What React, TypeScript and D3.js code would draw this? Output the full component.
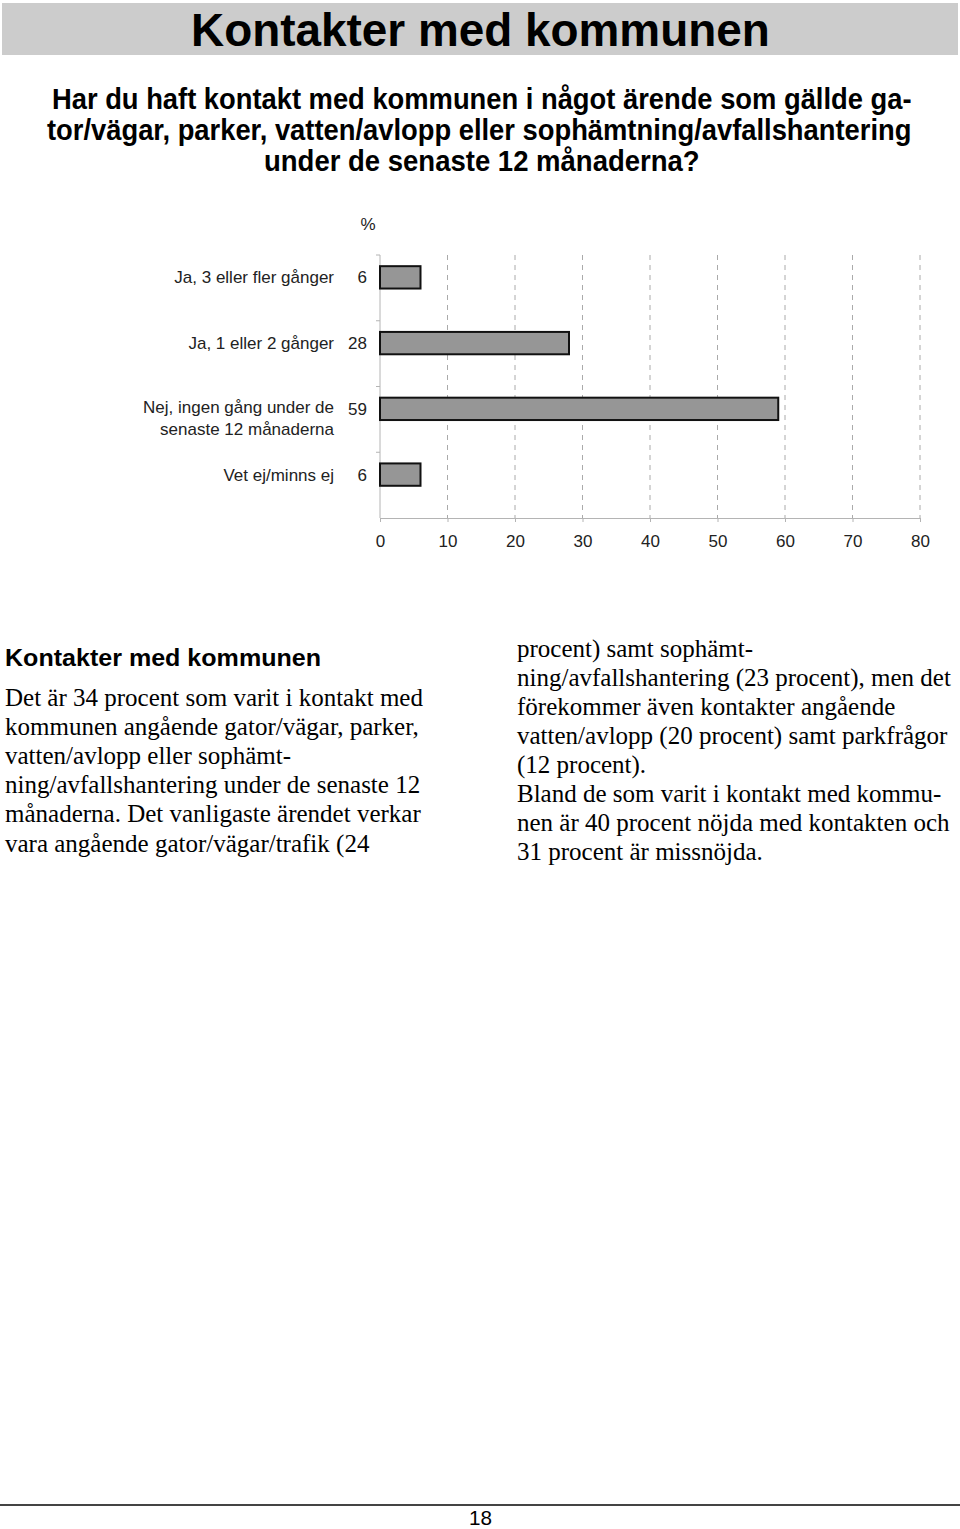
import React, { useEffect, useRef } from 'react';
import * as d3 from 'd3';

// Chart data
const categories = [
  'Ja, 3 eller fler gånger',
  'Ja, 1 eller 2 gånger',
  'Nej, ingen gång under de|senaste 12 månaderna',
  'Vet ej/minns ej'
];
const values = [6, 28, 59, 6];
const xTicks = [0, 10, 20, 30, 40, 50, 60, 70, 80];

const pageTitle = 'Kontakter med kommunen';
const questionLines = [
  'Har du haft kontakt med kommunen i något ärende som gällde ga-',
  'tor/vägar, parker, vatten/avlopp eller sophämtning/avfallshantering',
  'under de senaste 12 månaderna?'
];
// [left, right] edge of each question line in the page
const questionSpan = [[52, 912], [47, 912], [264, 700]];
const sectionHeading = 'Kontakter med kommunen';
const leftColumn = [
  'Det är 34 procent som varit i kontakt med',
  'kommunen angående gator/vägar, parker,',
  'vatten/avlopp eller sophämt-',
  'ning/avfallshantering under de senaste 12',
  'månaderna. Det vanligaste ärendet verkar',
  'vara angående gator/vägar/trafik (24'
];
const rightColumn = [
  'procent) samt sophämt-',
  'ning/avfallshantering (23 procent), men det',
  'förekommer även kontakter angående',
  'vatten/avlopp (20 procent) samt parkfrågor',
  '(12 procent).',
  'Bland de som varit i kontakt med kommu-',
  'nen är 40 procent nöjda med kontakten och',
  '31 procent är missnöjda.'
];
const pageNumber = '18';

const W = 960;
const H = 1529;
const SANS = '"Liberation Sans", Arial, sans-serif';
const SERIF = '"Liberation Serif", "Times New Roman", serif';

type Sel = d3.Selection<SVGSVGElement, unknown, null, undefined>;

// Draws a condensed text that spans [x0, x1] by squeezing it horizontally
function condensed(svg: Sel, str: string, x0: number, x1: number, baseline: number, size: number, bold: boolean) {
  const t = svg.append('text')
    .attr('x', 0).attr('y', 0)
    .attr('font-family', SANS)
    .attr('font-weight', bold ? 'bold' : 'normal')
    .attr('font-size', size)
    .attr('fill', '#000')
    .text(str);
  const len = (t.node() as SVGTextElement).getComputedTextLength() || (x1 - x0);
  t.attr('transform', `translate(${x0},${baseline}) scale(${(x1 - x0) / len},1)`);
}

const App: React.FC = () => {
  const svgRef = useRef<SVGSVGElement>(null);

  useEffect(() => {
    if (!svgRef.current) return;
    const svg = d3.select(svgRef.current) as Sel;
    svg.selectAll('*').remove();

    svg.append('rect').attr('width', W).attr('height', H).attr('fill', '#fff');

    // Title band
    svg.append('rect')
      .attr('x', 2).attr('y', 3).attr('width', 956).attr('height', 52)
      .attr('fill', '#cccccc');
    condensed(svg, pageTitle, 191, 770, 46, 47, true);

    // Question
    questionLines.forEach((line, i) => {
      const [a, b] = questionSpan[i];
      condensed(svg, line, a, b, 109 + i * 31, 30, true);
    });

    // Chart
    const left = 380, right = 920, top = 255, bottom = 518;
    const x = d3.scaleLinear().domain([0, 80]).range([left, right]);
    const y = d3.scaleBand<string>().domain(categories).range([top, bottom]).padding(0);
    const bw = y.bandwidth();
    const barY = (c: string) => (y(c) || 0) + bw * 0.17;
    const barH = bw * 0.34;

    const g = svg.append('g');

    // gridlines
    g.selectAll('.grid')
      .data(xTicks.filter(t => t > 0))
      .enter()
      .append('line')
      .attr('x1', d => x(d)).attr('x2', d => x(d))
      .attr('y1', top).attr('y2', bottom)
      .attr('stroke', '#aaaaaa')
      .attr('stroke-width', 1)
      .attr('stroke-dasharray', '5,5');

    // y axis line + ticks
    g.append('line')
      .attr('x1', left).attr('x2', left).attr('y1', top).attr('y2', bottom)
      .attr('stroke', '#b4b4b4');
    g.selectAll('.ytick')
      .data(categories)
      .enter()
      .append('line')
      .attr('x1', left - 4).attr('x2', left)
      .attr('y1', d => y(d) || 0).attr('y2', d => y(d) || 0)
      .attr('stroke', '#b4b4b4');

    // x axis
    const xAxis = g.append('g')
      .attr('transform', `translate(0,${bottom})`)
      .call(d3.axisBottom(x).tickValues(xTicks).tickSize(4).tickPadding(13));
    xAxis.select('.domain').attr('stroke', '#b4b4b4');
    xAxis.selectAll('.tick line').attr('stroke', '#b4b4b4');
    xAxis.selectAll('.tick text')
      .attr('font-family', SANS)
      .attr('font-size', 17)
      .attr('fill', '#222');

    // bars
    g.selectAll('.bar')
      .data(categories)
      .enter()
      .append('rect')
      .attr('x', x(0))
      .attr('y', d => barY(d))
      .attr('width', (_, i) => x(values[i]) - x(0))
      .attr('height', barH)
      .attr('fill', '#969696')
      .attr('stroke', '#111')
      .attr('stroke-width', 2);

    // value labels
    g.selectAll('.val')
      .data(categories)
      .enter()
      .append('text')
      .attr('x', 367)
      .attr('y', d => barY(d) + barH / 2)
      .attr('dy', '0.35em')
      .attr('text-anchor', 'end')
      .attr('font-family', SANS)
      .attr('font-size', 17)
      .attr('fill', '#222')
      .text((_, i) => values[i]);

    // category labels
    categories.forEach(c => {
      const parts = c.split('|');
      const t = g.append('text')
        .attr('text-anchor', 'end')
        .attr('font-family', SANS)
        .attr('font-size', 17)
        .attr('fill', '#222');
      parts.forEach((p, j) => {
        t.append('tspan')
          .attr('x', 334)
          .attr('y', barY(c) + barH / 2 - (parts.length > 1 ? 2 : 0) + j * 22)
          .attr('dy', '0.35em')
          .text(p);
      });
    });

    // percent label
    g.append('text')
      .attr('x', 368).attr('y', 224)
      .attr('dy', '0.35em')
      .attr('text-anchor', 'middle')
      .attr('font-family', SANS)
      .attr('font-size', 17)
      .attr('fill', '#222')
      .text('%');

    // Section heading
    svg.append('text')
      .attr('x', 5).attr('y', 666)
      .attr('font-family', SANS)
      .attr('font-weight', 'bold')
      .attr('font-size', 23)
      .attr('textLength', 316)
      .attr('lengthAdjust', 'spacingAndGlyphs')
      .attr('fill', '#000')
      .text(sectionHeading);

    leftColumn.forEach((line, i) => {
      svg.append('text')
        .attr('x', 5).attr('y', 706 + i * 29.1)
        .attr('font-family', SERIF)
        .attr('font-size', 25)
        .attr('fill', '#000')
        .text(line);
    });
    rightColumn.forEach((line, i) => {
      svg.append('text')
        .attr('x', 517).attr('y', 657 + i * 29.05)
        .attr('font-family', SERIF)
        .attr('font-size', 25)
        .attr('fill', '#000')
        .text(line);
    });

    // Footer
    svg.append('line')
      .attr('x1', 0).attr('x2', 960).attr('y1', 1505).attr('y2', 1505)
      .attr('stroke', '#444').attr('stroke-width', 2);
    condensed(svg, pageNumber, 469, 492, 1525, 20, false);
  }, []);

  return (
    <svg
      ref={svgRef}
      width={W}
      height={H}
      viewBox={`0 0 ${W} ${H}`}
      style={{ position: 'absolute', left: 0, top: 0, display: 'block' }}
    />
  );
};

export default App;
